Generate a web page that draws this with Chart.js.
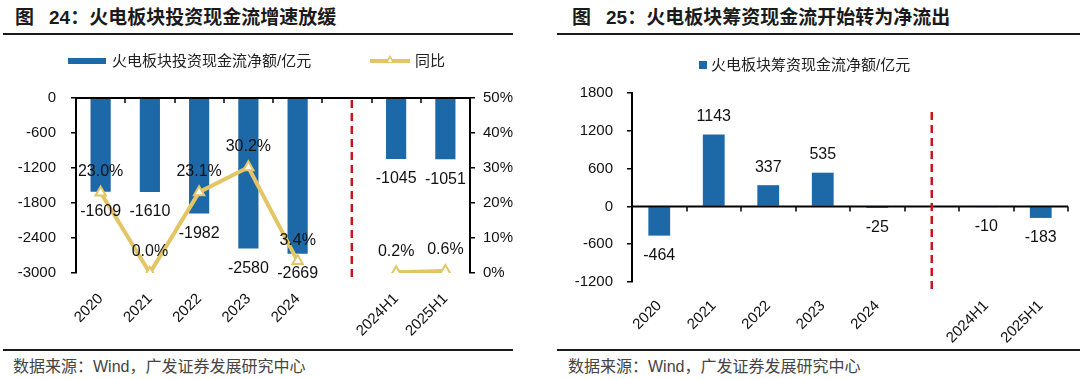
<!DOCTYPE html>
<html>
<head>
<meta charset="utf-8">
<script src="https://cdn.jsdelivr.net/npm/chart.js@4.4.0/dist/chart.umd.min.js"></script>
<style>
  body { margin: 0; width: 1080px; height: 379px; background: #fff; position: relative; overflow: hidden;
         font-family: "Liberation Sans", "Noto Sans CJK SC", sans-serif; }
  .title { position: absolute; top: 8px; line-height: 20px; font-size: 19px; font-weight: bold; color: #1a1a1a; white-space: nowrap; }
  .title .fig { margin-right: 15px; }
  .rule { position: absolute; height: 2px; background: #1a1a1a; }
  .src { position: absolute; top: 358px; line-height: 18px; font-size: 16px; color: #444; white-space: nowrap; }
  .box { position: absolute; top: 40px; height: 305px; }
  .legend { position: absolute; font-size: 15px; line-height: 18px; color: #222; white-space: nowrap; }
  .sw { position: absolute; }
</style>
</head>
<body>

<div class="title" style="left:15px"><span class="fig">图</span>24：火电板块投资现金流增速放缓</div>
<div class="rule" style="left:3px; width:510px; top:33px"></div>
<div class="title" style="left:572px"><span class="fig">图</span>25：火电板块筹资现金流开始转为净流出</div>
<div class="rule" style="left:557px; width:523px; top:33px"></div>

<div class="box" style="left:0; width:513px"><canvas id="invest"></canvas></div>
<div class="box" style="left:540px; width:540px"><canvas id="finance"></canvas></div>

<div id="legend1"></div>
<div id="legend2"></div>

<div class="rule" style="left:3px; width:510px; top:349px; height:1.5px"></div>
<div class="rule" style="left:557px; width:523px; top:349px; height:1.5px"></div>
<div class="src" style="left:13px">数据来源：Wind，广发证券发展研究中心</div>
<div class="src" style="left:568px">数据来源：Wind，广发证券发展研究中心</div>

<script>
// categories (blank slot where the red divider sits)
const periods = ['2020', '2021', '2022', '2023', '2024', '', '2024H1', '2025H1'];

// fig 24
const investNet = [-1609, -1610, -1982, -2580, -2669, null, -1045, -1051];
const investYoy = [23.0, 0.0, 23.1, 30.2, 3.4, null, 0.2, 0.6];
const investTicks = [0, -600, -1200, -1800, -2400, -3000];
const yoyTicks = ['0%', '10%', '20%', '30%', '40%', '50%'];

// fig 25
const financeNet = [-464, 1143, 337, 535, -25, null, -10, -183];
const financeTicks = [1800, 1200, 600, 0, -600, -1200];

const investLabel = '火电板块投资现金流净额/亿元';
const yoyLabel = '同比';
const financeLabel = '火电板块筹资现金流净额/亿元';

const blue = '#1D68A6';
const gold = '#E3C565';
const numFont = '"Liberation Sans", Arial, sans-serif';

// legends
document.getElementById('legend1').innerHTML =
  '<div class="sw" style="left:68px; top:58px; width:38px; height:6px; background:' + blue + '"></div>' +
  '<div class="legend" style="left:112px; top:52px">' + investLabel + '</div>' +
  '<div class="sw" style="left:370px; top:59px; width:40px; height:4px; background:' + gold + '"></div>' +
  '<div class="sw" style="left:385px; top:55px; width:0; height:0; border-left:5px solid transparent; border-right:5px solid transparent; border-bottom:8px solid ' + gold + '"></div>' +
  '<div class="sw" style="left:387.5px; top:58px; width:0; height:0; border-left:2.5px solid transparent; border-right:2.5px solid transparent; border-bottom:4px solid #fff"></div>' +
  '<div class="legend" style="left:415px; top:52px">' + yoyLabel + '</div>';
document.getElementById('legend2').innerHTML =
  '<div class="sw" style="left:699px; top:61px; width:8px; height:8px; background:' + blue + '"></div>' +
  '<div class="legend" style="left:711px; top:56px">' + financeLabel + '</div>';

// value labels
const valueLabels = {
  id: 'valueLabels',
  afterDatasetsDraw(chart) {
    const ctx = chart.ctx;
    ctx.save();
    ctx.font = '16px ' + numFont;
    ctx.fillStyle = '#111';
    ctx.textAlign = 'center';
    ctx.textBaseline = 'middle';
    chart.data.datasets.forEach((ds, i) => {
      const meta = chart.getDatasetMeta(i);
      meta.data.forEach((el, j) => {
        const v = ds.data[j];
        if (v === null || v === undefined) return;
        if (ds.type === 'line') {
          ctx.fillText(v.toFixed(1) + '%', el.x, el.y - 21);
        } else {
          ctx.fillText(String(v), el.x, v < 0 ? el.y + 20 : el.y - 18);
        }
      });
    });
    ctx.restore();
  }
};

// zero axis line with boundary ticks + red divider
const zeroAxis = {
  id: 'zeroAxis',
  afterDatasetsDraw(chart, args, opts) {
    const {ctx, chartArea, scales} = chart;
    const y0 = scales.y.getPixelForValue(0);
    ctx.save();
    ctx.strokeStyle = '#000';
    ctx.lineWidth = 2;
    ctx.beginPath();
    ctx.moveTo(chartArea.left, y0);
    ctx.lineTo(chartArea.right, y0);
    ctx.stroke();
    ctx.lineWidth = 1.5;
    for (let i = 1; i <= chart.data.labels.length; i++) {
      const bx = Math.round(scales.x.getPixelForValue(i - 0.5));
      ctx.beginPath();
      ctx.moveTo(bx, y0);
      ctx.lineTo(bx, y0 + 5);
      ctx.stroke();
    }
    const dx = scales.x.getPixelForValue(opts.gap + opts.shift);
    ctx.strokeStyle = '#C8161D';
    ctx.lineWidth = 2.5;
    ctx.setLineDash([8, 5]);
    ctx.beginPath();
    ctx.moveTo(dx, chartArea.top + opts.top);
    ctx.lineTo(dx, chartArea.bottom + opts.bottom);
    ctx.stroke();
    ctx.restore();
  }
};

function yAxis(min, max, step, width, padding, fmt) {
  return {
    min: min, max: max,
    ticks: { stepSize: step, color: '#111', padding: padding, font: { size: 15, family: numFont },
             callback: fmt || (v => v) },
    grid: { drawOnChartArea: false, color: '#000', tickLength: 5, lineWidth: 1.5 },
    border: { color: '#000', width: 2 },
    afterFit: s => { s.width = width; }
  };
}

function xAxis(height, padding) {
  return {
    grid: { display: false, drawTicks: false },
    border: { display: false },
    ticks: { minRotation: 45, maxRotation: 45, autoSkip: false, color: '#111', padding: padding,
             font: { size: 15, family: numFont } },
    afterFit: s => { s.height = height; }
  };
}

Chart.defaults.animation = false;

new Chart(document.getElementById('invest'), {
  type: 'bar',
  data: {
    labels: periods,
    datasets: [
      { type: 'line', label: yoyLabel, data: investYoy, yAxisID: 'y2', order: 0,
        borderColor: gold, borderWidth: 4, tension: 0, spanGaps: false,
        pointStyle: 'triangle', pointRadius: 6, pointBackgroundColor: '#fff',
        pointBorderColor: gold, pointBorderWidth: 2 },
      { type: 'bar', label: investLabel, data: investNet, yAxisID: 'y', order: 1,
        backgroundColor: blue, barPercentage: 0.41, categoryPercentage: 1.0 }
    ]
  },
  options: {
    responsive: true,
    maintainAspectRatio: false,
    layout: { padding: { top: 58, left: 0, right: 0, bottom: 0 } },
    plugins: {
      legend: { display: false },
      tooltip: { enabled: false },
      zeroAxis: { gap: 5, shift: 0.1, top: 2, bottom: 7 }
    },
    scales: {
      x: xAxis(72, 17),
      y: yAxis(Math.min(...investTicks), Math.max(...investTicks), 600, 76, 15),
      y2: Object.assign(yAxis(0, 50, 10, 43, 8, v => v + '%'), { position: 'right' })
    }
  },
  plugins: [zeroAxis, valueLabels]
});

new Chart(document.getElementById('finance'), {
  type: 'bar',
  data: {
    labels: periods,
    datasets: [
      { label: financeLabel, data: financeNet, backgroundColor: blue,
        barPercentage: 0.4, categoryPercentage: 1.0 }
    ]
  },
  options: {
    responsive: true,
    maintainAspectRatio: false,
    layout: { padding: { top: 53, left: 0, right: 12, bottom: 0 } },
    plugins: {
      legend: { display: false },
      tooltip: { enabled: false },
      zeroAxis: { gap: 5, shift: 0, top: 19, bottom: 8 }
    },
    scales: {
      x: xAxis(63, 15),
      y: yAxis(Math.min(...financeTicks), Math.max(...financeTicks), 600, 92, 14)
    }
  },
  plugins: [zeroAxis, valueLabels]
});
</script>
</body>
</html>
